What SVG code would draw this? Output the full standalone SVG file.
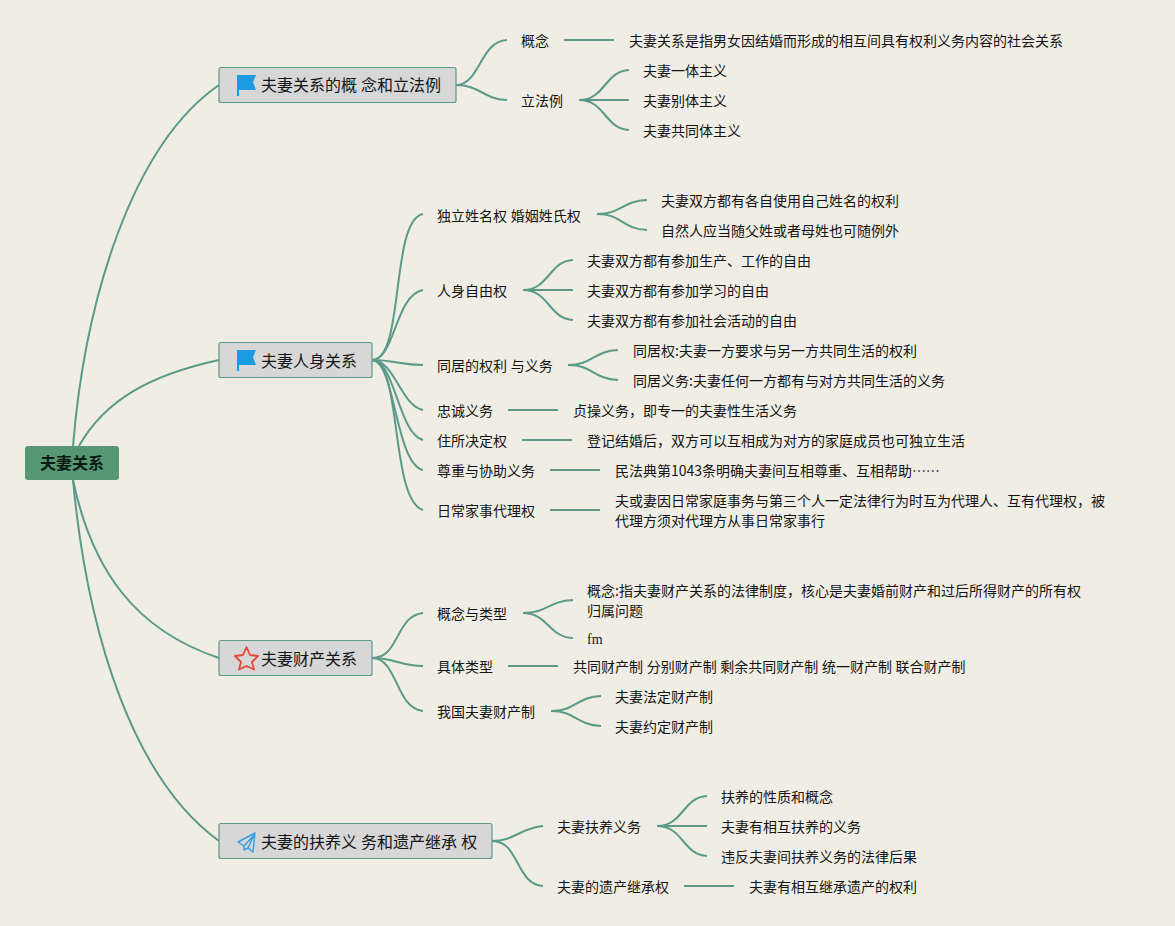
<svg xmlns="http://www.w3.org/2000/svg" width="1175" height="926" viewBox="0 0 1175 926">
<style>
.c{fill:none;stroke:#5b9a89;stroke-width:2}
text{font-family:"Noto Sans CJK SC","Liberation Sans",sans-serif;fill:#141414;word-spacing:.5px}
.t{font-size:14px}
.b{font-size:16px}
.r{font-size:16px;font-weight:700;fill:#0a1a12}
.box{fill:#d7d7d8;stroke:#5b9a89;stroke-width:1.200}
.flag{fill:#1c9ae0}
.f{font-family:"Liberation Serif",serif}
</style>
<rect width="1175" height="926" fill="#f0eee4"/>
<g id="connectors">
<path class="c" d="M73 446C85 300 132 145 219 85"/>
<path class="c" d="M79 446C105 400 150 375 219 360"/>
<path class="c" d="M73 480C92 570 135 630 219 658"/>
<path class="c" d="M73 480C88 640 135 780 219 841"/>
<path class="c" d="M456 85C480 85 480 41 507 40"/>
<path class="c" d="M456 85C480 85 485 100 507 100"/>
<path class="c" d="M564 40H614"/>
<path class="c" d="M579 100C605 100 605 71 629 70"/>
<path class="c" d="M579 100H629"/>
<path class="c" d="M579 100C605 100 605 129 629 130"/>
<path class="c" d="M372 360C405 360 390 220 423 214"/>
<path class="c" d="M372 360C395 360 395 295 423 290"/>
<path class="c" d="M372 360C395 360 400 365 423 365"/>
<path class="c" d="M372 360C395 360 400 405 423 410"/>
<path class="c" d="M372 360C395 360 398 433 423 440"/>
<path class="c" d="M372 360C395 360 395 463 423 470"/>
<path class="c" d="M372 360C402 360 390 500 423 510"/>
<path class="c" d="M597 214C622 214 622 201 647 200"/>
<path class="c" d="M597 214C622 214 622 229 647 230"/>
<path class="c" d="M523 290C549 290 549 261 573 260"/>
<path class="c" d="M523 290H573"/>
<path class="c" d="M523 290C549 290 549 319 573 320"/>
<path class="c" d="M568 365C593 365 593 351 618 350"/>
<path class="c" d="M568 365C593 365 593 379 618 380"/>
<path class="c" d="M508 410H558"/>
<path class="c" d="M522 440H572"/>
<path class="c" d="M550 470H600"/>
<path class="c" d="M550 510H600"/>
<path class="c" d="M372 658C400 658 395 616 423 613"/>
<path class="c" d="M372 658C395 658 400 666 423 666"/>
<path class="c" d="M372 658C398 658 395 708 423 711"/>
<path class="c" d="M523 613C548 613 548 601 573 600"/>
<path class="c" d="M523 613C548 613 548 637 573 638"/>
<path class="c" d="M508 666H558"/>
<path class="c" d="M551 711C576 711 576 697 601 696"/>
<path class="c" d="M551 711C576 711 576 725 601 726"/>
<path class="c" d="M492 841C515 841 520 828 543 826"/>
<path class="c" d="M492 841C520 841 515 884 543 886"/>
<path class="c" d="M657 826C683 826 683 797 707 796"/>
<path class="c" d="M657 826H707"/>
<path class="c" d="M657 826C683 826 683 855 707 856"/>
<path class="c" d="M684 886H734"/>
</g>
<g id="root"><rect x="25" y="446" width="94" height="34" rx="3" fill="#569873"/><text class="r" x="40" y="469">夫妻关系</text></g>
<g id="branch1"><rect class="box" x="219" y="67.500" width="237" height="35" rx="2"/>
<path class="flag" d="M237 75H256L253 82L256 90H239V96H237Z"/>
<text class="b" x="261" y="91">夫妻关系的概 念和立法例</text></g>
<g id="branch2"><rect class="box" x="219" y="342.500" width="153" height="35" rx="2"/>
<path class="flag" d="M237 350H256L253 357L256 365H239V371H237Z"/>
<text class="b" x="261" y="366.500">夫妻人身关系</text></g>
<g id="branch3"><rect class="box" x="219" y="640.500" width="153" height="35" rx="2"/>
<path d="M246.500 647L250 655L258 656L252 662L254 669.500L246.500 666L239 669.500L241 662L235 656L243 655Z" fill="none" stroke="#e8473a" stroke-width="1.800" stroke-linejoin="round"/>
<text class="b" x="261" y="664.500">夫妻财产关系</text></g>
<g id="branch4"><rect class="box" x="219" y="823.500" width="273" height="35" rx="2"/>
<path d="M255 833L238 842L244 846L254 835L248 848L253 852Z M244 846V850L248 848" fill="none" stroke="#3aa0e0" stroke-width="1.500" stroke-linejoin="round"/>
<text class="b" x="261" y="847.500">夫妻的扶养义 务和遗产继承 权</text></g>
<g id="n1-1"><text class="t" x="521" y="46">概念</text></g>
<g id="n1-1a"><text class="t" x="629" y="46">夫妻关系是指男女因结婚而形成的相互间具有权利义务内容的社会关系</text></g>
<g id="n1-2"><text class="t" x="521" y="106">立法例</text></g>
<g id="n1-2a"><text class="t" x="643" y="76">夫妻一体主义</text></g>
<g id="n1-2b"><text class="t" x="643" y="106">夫妻别体主义</text></g>
<g id="n1-2c"><text class="t" x="643" y="136">夫妻共同体主义</text></g>
<g id="n2-1"><text class="t" x="437" y="221">独立姓名权 婚姻姓氏权</text></g>
<g id="n2-1a"><text class="t" x="661" y="206">夫妻双方都有各自使用自己姓名的权利</text></g>
<g id="n2-1b"><text class="t" x="661" y="236">自然人应当随父姓或者母姓也可随例外</text></g>
<g id="n2-2"><text class="t" x="437" y="296">人身自由权</text></g>
<g id="n2-2a"><text class="t" x="587" y="266">夫妻双方都有参加生产、工作的自由</text></g>
<g id="n2-2b"><text class="t" x="587" y="296">夫妻双方都有参加学习的自由</text></g>
<g id="n2-2c"><text class="t" x="587" y="326">夫妻双方都有参加社会活动的自由</text></g>
<g id="n2-3"><text class="t" x="437" y="371">同居的权利 与义务</text></g>
<g id="n2-3a"><text class="t" x="633" y="356">同居权:夫妻一方要求与另一方共同生活的权利</text></g>
<g id="n2-3b"><text class="t" x="633" y="386">同居义务:夫妻任何一方都有与对方共同生活的义务</text></g>
<g id="n2-4"><text class="t" x="437" y="416">忠诚义务</text></g>
<g id="n2-4a"><text class="t" x="573" y="416">贞操义务，即专一的夫妻性生活义务</text></g>
<g id="n2-5"><text class="t" x="437" y="446">住所决定权</text></g>
<g id="n2-5a"><text class="t" x="587" y="446">登记结婚后，双方可以互相成为对方的家庭成员也可独立生活</text></g>
<g id="n2-6"><text class="t" x="437" y="476">尊重与协助义务</text></g>
<g id="n2-6a"><text class="t" x="615" y="476">民法典第1043条明确夫妻间互相尊重、互相帮助<tspan letter-spacing="-.4">……</tspan></text></g>
<g id="n2-7"><text class="t" x="437" y="516">日常家事代理权</text></g>
<g id="n2-7a"><text class="t" x="615" y="506">夫或妻因日常家庭事务与第三个人一定法律行为时互为代理人、互有代理权，被</text><text class="t" x="615" y="526">代理方须对代理方从事日常家事行</text></g>
<g id="n3-1"><text class="t" x="437" y="619">概念与类型</text></g>
<g id="n3-1a"><text class="t" x="587" y="596">概念:指夫妻财产关系的法律制度，核心是夫妻婚前财产和过后所得财产的所有权</text><text class="t" x="587" y="616">归属问题</text></g>
<g id="n3-1b"><text class="t f" x="587" y="644">fm</text></g>
<g id="n3-2"><text class="t" x="437" y="672">具体类型</text></g>
<g id="n3-2a"><text class="t" x="573" y="672">共同财产制 分别财产制 剩余共同财产制 统一财产制 联合财产制</text></g>
<g id="n3-3"><text class="t" x="437" y="717">我国夫妻财产制</text></g>
<g id="n3-3a"><text class="t" x="615" y="702">夫妻法定财产制</text></g>
<g id="n3-3b"><text class="t" x="615" y="732">夫妻约定财产制</text></g>
<g id="n4-1"><text class="t" x="557" y="832">夫妻扶养义务</text></g>
<g id="n4-1a"><text class="t" x="721" y="802">扶养的性质和概念</text></g>
<g id="n4-1b"><text class="t" x="721" y="832">夫妻有相互扶养的义务</text></g>
<g id="n4-1c"><text class="t" x="721" y="862">违反夫妻间扶养义务的法律后果</text></g>
<g id="n4-2"><text class="t" x="557" y="892">夫妻的遗产继承权</text></g>
<g id="n4-2a"><text class="t" x="749" y="892">夫妻有相互继承遗产的权利</text></g>
</svg>
